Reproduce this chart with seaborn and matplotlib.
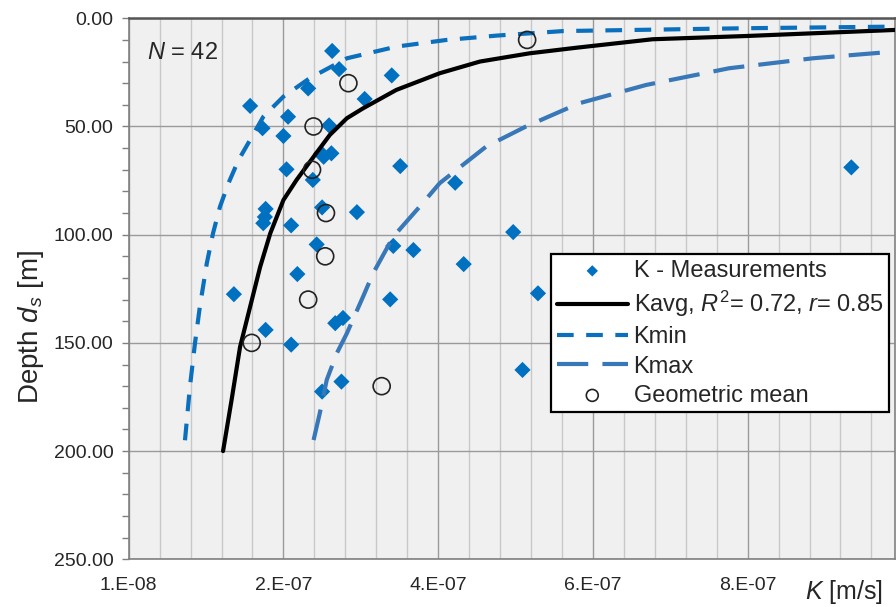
import numpy as np
import pandas as pd
import matplotlib
matplotlib.use("Agg")
import matplotlib.pyplot as plt
from matplotlib.ticker import FixedLocator, MultipleLocator, FuncFormatter
import seaborn as sns

# K - measurements (hydraulic conductivity [m/s] vs depth [m])
meas_k = [2.73e-7, 2.82e-7, 3.50e-7, 2.42e-7, 3.15e-7, 1.67e-7, 2.16e-7, 1.83e-7,
          2.69e-7, 2.10e-7, 2.59e-7, 2.72e-7, 2.62e-7, 3.61e-7, 2.14e-7, 2.48e-7,
          2.60e-7, 1.87e-7, 3.05e-7, 1.86e-7, 1.84e-7, 2.20e-7, 2.53e-7, 3.52e-7,
          3.78e-7, 2.28e-7, 1.46e-7, 3.48e-7, 1.87e-7, 2.77e-7, 2.87e-7, 2.20e-7,
          2.85e-7, 2.60e-7, 4.32e-7, 9.44e-7, 5.07e-7, 4.43e-7, 5.39e-7, 5.19e-7]
meas_d = [15.1, 23.5, 26.4, 32.4, 37.3, 40.5, 45.5, 50.8,
          49.5, 54.4, 62.4, 62.4, 64.0, 68.3, 69.8, 74.7,
          87.4, 88.1, 89.6, 91.8, 94.7, 95.7, 104.5, 105.2,
          107.1, 118.2, 127.5, 129.9, 144.0, 140.9, 138.5, 150.8,
          167.9, 172.5, 76.0, 68.9, 98.8, 113.6, 127.1, 162.5]

# geometric mean per depth interval
gm_k = [5.25e-7, 2.94e-7, 2.49e-7, 2.47e-7, 2.65e-7, 2.64e-7, 2.42e-7, 1.69e-7, 3.37e-7]
gm_d = [10, 30, 50, 70, 90, 110, 130, 150, 170]

# fitted curves
kavg_k = [1.32e-7, 1.43e-7, 1.54e-7, 1.67e-7, 1.80e-7, 1.93e-7, 2.10e-7, 2.27e-7,
          2.49e-7, 2.70e-7, 2.92e-7, 3.13e-7, 3.56e-7, 4.12e-7, 4.64e-7, 5.28e-7,
          5.89e-7, 6.87e-7, 8.08e-7, 1.0e-6]
kavg_d = [200, 176.4, 151.8, 133.3, 114.8, 99.4, 84, 74.7,
          64, 53.9, 46.2, 41.6, 33.1, 25.4, 20, 16.2,
          13.6, 9.7, 8.2, 5.4]

kmin_k = [8.28e-8, 8.92e-8, 9.57e-8, 1.02e-7, 1.11e-7, 1.19e-7, 1.28e-7, 1.39e-7,
          1.52e-7, 1.67e-7, 1.84e-7, 2.10e-7, 2.44e-7, 2.92e-7, 3.56e-7, 4.21e-7,
          4.86e-7, 5.72e-7, 8.08e-7, 9.89e-7]
kmin_d = [195, 170.2, 150.2, 133.3, 113.2, 99.4, 87.1, 76.2,
          65.5, 56.2, 45.5, 36.2, 27.7, 18.5, 13.1, 10,
          8.0, 5.9, 4.6, 3.9]

kmax_k = [2.49e-7, 2.57e-7, 2.66e-7, 2.79e-7, 2.92e-7, 3.13e-7, 3.26e-7, 3.52e-7,
          3.86e-7, 4.12e-7, 4.72e-7, 5.23e-7, 5.92e-7, 6.79e-7, 7.86e-7, 8.94e-7, 9.89e-7]
kmax_d = [194.9, 182.5, 167.1, 154.8, 145.6, 128.6, 117.8, 100.9,
          87.1, 76.2, 59.3, 50.1, 39.3, 30.8, 23.1, 18.5, 15.7]

x_major = [1e-8, 2.1e-7, 4.1e-7, 6.1e-7, 8.1e-7]

sns.set_style("white")
plt.rcParams["font.family"] = ["Liberation Sans", "DejaVu Sans"]
plt.rcParams["mathtext.fontset"] = "custom"
plt.rcParams["mathtext.rm"] = "Liberation Sans"
plt.rcParams["mathtext.it"] = "Liberation Sans:italic"

meas = pd.DataFrame({"K": meas_k, "d": meas_d})
gm = pd.DataFrame({"K": gm_k, "d": gm_d})
kavg = pd.DataFrame({"K": kavg_k, "d": kavg_d})
kmin = pd.DataFrame({"K": kmin_k, "d": kmin_d})
kmax = pd.DataFrame({"K": kmax_k, "d": kmax_d})

fig = plt.figure(figsize=(8.96, 6.07), dpi=100)
ax = fig.add_axes([0.1436, 0.0786, 0.8549, 0.8913])
ax.set_facecolor("#f0f0f0")

sns.scatterplot(data=meas, x="K", y="d", marker="D", s=68, color="#0070c0",
                edgecolor="none", label="K - Measurements", ax=ax, zorder=3)
sns.lineplot(data=kavg, x="K", y="d", sort=False, estimator=None, color="black",
             label="Kavg, $R^2$= 0.72, $r$= 0.85", ax=ax, zorder=4)
line_avg = ax.lines[-1]
sns.lineplot(data=kmin, x="K", y="d", sort=False, estimator=None, color="#0a6fbd",
             ax=ax, zorder=4, label="Kmin")
line_min = ax.lines[-1]
sns.lineplot(data=kmax, x="K", y="d", sort=False, estimator=None, color="#3878b8",
             ax=ax, zorder=4, label="Kmax")
line_max = ax.lines[-1]
line_avg.set_linewidth(3.0)
line_min.set_linewidth(3.0)
line_max.set_linewidth(3.0)
line_min.set_linestyle((0, (4.0, 3.0)))
line_max.set_linestyle((0, (7.5, 3.4)))
sns.scatterplot(data=gm, x="K", y="d", marker="o", s=150, facecolor="none",
                edgecolor="#222222", linewidth=1.2, label="Geometric mean",
                ax=ax, zorder=5)

ax.set_xlim(1e-8, 1e-6)
ax.set_ylim(250, 0)

ax.xaxis.set_major_locator(FixedLocator(x_major))
ax.xaxis.set_minor_locator(FixedLocator(np.arange(5e-8, 1e-6, 4e-8)))
ax.xaxis.set_major_formatter(FuncFormatter(lambda v, p: format(v, "#.0E")))
ax.yaxis.set_major_locator(MultipleLocator(50))
ax.yaxis.set_minor_locator(MultipleLocator(10))
ax.yaxis.set_major_formatter(FuncFormatter(lambda v, p: f"{v:.2f}"))

ax.grid(which="major", axis="both", color="#9a9a9a", lw=1.0)
ax.grid(which="minor", axis="x", color="#c8c8c8", lw=1.0)
ax.set_axisbelow(True)

ax.tick_params(axis="x", which="both", length=0, labelsize=14, pad=13)
ax.tick_params(axis="y", which="both", direction="out", length=5, width=1,
               color="#808080", labelsize=14, pad=6, left=True)

for side in ["left", "bottom", "right"]:
    ax.spines[side].set_color("#808080")
    ax.spines[side].set_linewidth(1.2)
ax.spines["top"].set_color("#555555")
ax.spines["top"].set_linewidth(1.8)

ax.set_xlabel("$K$ [m/s]", fontsize=18, ha="right")
ax.xaxis.set_label_coords(0.985, -0.06)
ax.xaxis.label.set_va("center")
ax.set_ylabel("Depth $d_s$ [m]", fontsize=20)
ax.yaxis.label.set_va("center")
ax.yaxis.set_label_coords(-0.128, 0.43)

ax.text(0.024, 0.936, "$N$ = 42", transform=ax.transAxes, fontsize=17,
        ha="left", va="center")

handles, labels = ax.get_legend_handles_labels()
leg = ax.legend(handles, labels, loc="upper right", bbox_to_anchor=(0.993, 0.564),
                borderaxespad=0, fontsize=17, frameon=True, fancybox=False,
                framealpha=1, edgecolor="black", markerscale=0.7,
                handlelength=3.0, handletextpad=0.25, labelspacing=0.3,
                borderpad=0.25)
leg.get_frame().set_linewidth(1.6)

fig.savefig("out.png", dpi=100)
